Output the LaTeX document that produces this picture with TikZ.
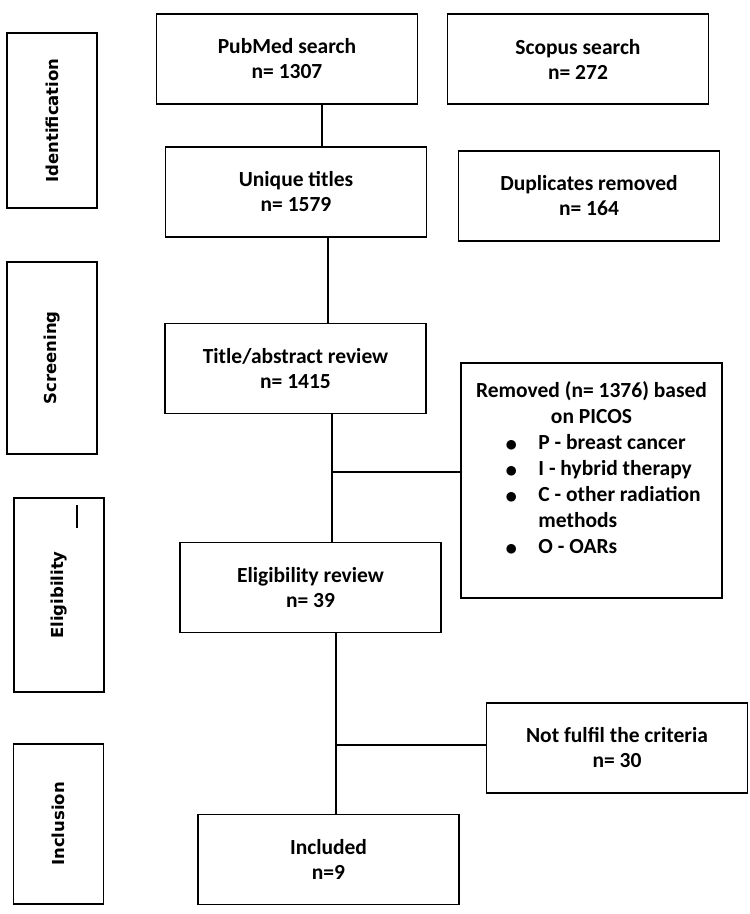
\documentclass[tikz,border=0pt]{standalone}
\usepackage{fontspec}
\setmainfont{Carlito}
\newfontfamily\stagefont{DejaVu Sans}
\usetikzlibrary{positioning}
\newcommand{\plainspace}{\spaceskip=0pt\relax}
\newcommand{\bigbullet}{\raisebox{-1.5pt}{\fontsize{28}{28}\selectfont$\bullet$}}

\begin{document}
\begin{tikzpicture}[x=1pt, y=-1pt,
    box/.style={draw, line width=1.6pt, minimum width=261pt, minimum height=90pt,
        align=center, font=\fontsize{21.5}{25}\selectfont\bfseries,
        execute at begin node=\plainspace},
    stage/.style={draw, line width=1.6pt, minimum height=90pt, rotate=90,
        font=\stagefont\fontsize{16.5}{20}\selectfont\bfseries},
    link/.style={line width=1.1pt}]
    \useasboundingbox (0,0) rectangle (750,914);

    \foreach \n/\x/\y/\h/\t in {ident/52/120.5/175/Identification,
                                screen/52/358/192/Screening,
                                eligl/59/595/194/Eligibility,
                                inclu/58.5/824/160/Inclusion}
        \node[stage, minimum width=\h] (\n) at (\x,\y) {\t};
    \draw[line width=1.6pt] (77,505) -- (77,528);

    \node[box] (pubmed) at (287,59)      {PubMed search\\n= 1307};
    \node[box] (scopus) at (578,59)      {Scopus search\\n= 272};
    \node[box] (unique) at (296,192)     {Unique titles\\n= 1579};
    \node[box] (dupl)   at (589,196)     {Duplicates removed\\n= 164};
    \node[box] (review) at (295.5,368.5) {Title/abstract review\\n= 1415};
    \node[box] (elig)   at (310.5,587.5) {Eligibility review\\n= 39};
    \node[box] (notmet) at (617,748)     {Not fulfil the criteria\\n= 30};
    \node[box] (incl)   at (328.5,859.5) {Included\\n=9};

    \node[box, minimum height=235pt, text width=245pt, inner xsep=8pt, align=left,
        font=\fontsize{21.5}{26}\selectfont\bfseries] (removed) at (591.5,480.5)
        {{\centering Removed (n= 1376) based\\ on PICOS\par}
         \noindent\begin{tabular}[t]{@{\hspace{36pt}}l@{\hspace{21pt}}l@{}}
            \bigbullet & P - breast cancer\\
            \bigbullet & I - hybrid therapy\\
            \bigbullet & C - other radiation\\
                       & methods\\
            \bigbullet & O - OARs
         \end{tabular}\par\noindent\rule{0pt}{17pt}};

    \coordinate (c1) at (322,0);
    \coordinate (c2) at (328,0);
    \coordinate (c3) at (332,472);
    \coordinate (c4) at (336,745);
    \draw[link] (c1 |- pubmed.south) -- (c1 |- unique.north);
    \draw[link] (c2 |- unique.south) -- (c2 |- review.north);
    \draw[link] (c3 |- review.south) -- (c3 |- elig.north);
    \draw[link] (c3) -- (c3 -| removed.west);
    \draw[link] (c4 |- elig.south) -- (c4 |- incl.north);
    \draw[link] (c4) -- (c4 -| notmet.west);
\end{tikzpicture}
\end{document}
